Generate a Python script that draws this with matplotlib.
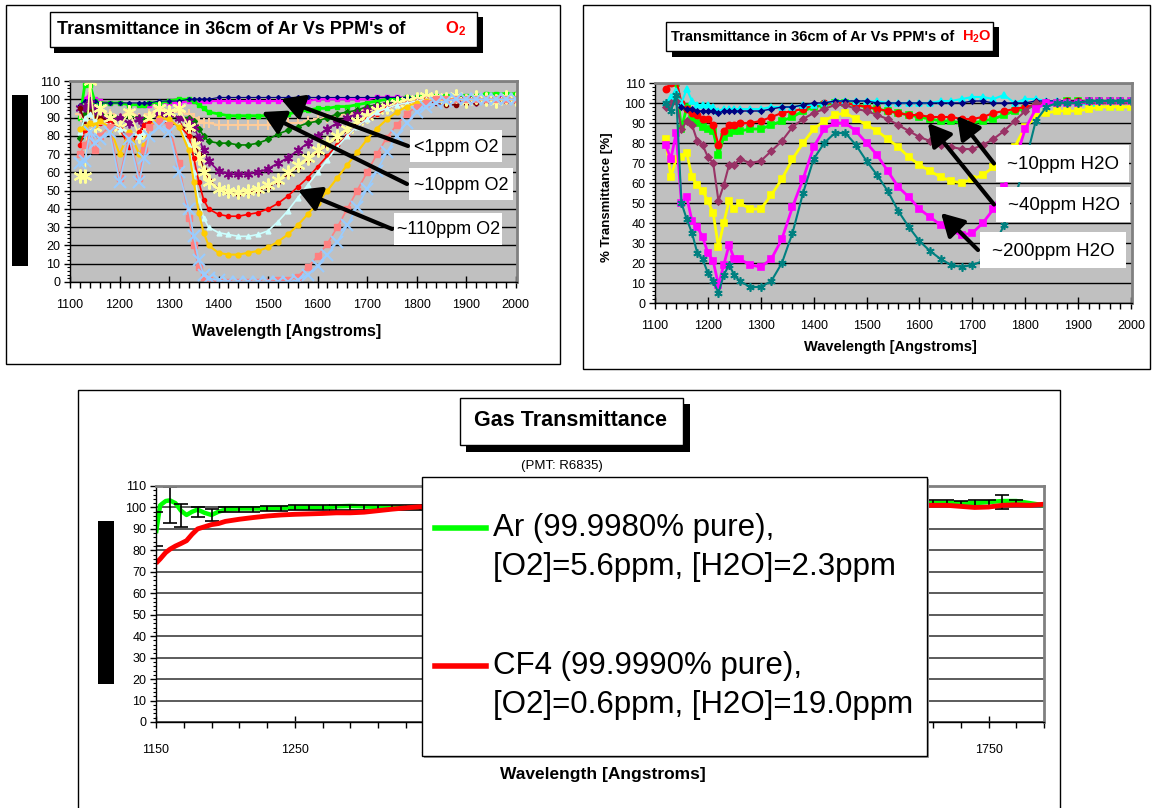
import numpy as np
import matplotlib.pyplot as plt
from matplotlib import font_manager as fm
from matplotlib.patches import Rectangle, FancyArrowPatch
from matplotlib.lines import Line2D

W, H = 1154, 808

_names = {f.name for f in fm.fontManager.ttflist}
SANS = 'Liberation Sans' if 'Liberation Sans' in _names else 'DejaVu Sans'
NARROW = 'Liberation Sans Narrow' if 'Liberation Sans Narrow' in _names else SANS

plt.rcParams['font.family'] = SANS
plt.rcParams['mathtext.fontset'] = 'custom'
plt.rcParams['mathtext.rm'] = SANS
plt.rcParams['mathtext.bf'] = SANS + ':bold'

# ── O2 panel : transmittance vs wavelength ───────────────────────────────────
xo = [1120, 1130, 1140, 1150, 1160, 1180, 1200, 1220, 1240, 1250, 1260, 1280, 1300, 1320, 1340, 1350, 1360, 1370, 1380,
      1400, 1420, 1440, 1460, 1480, 1500, 1520, 1540, 1560, 1580, 1600, 1620, 1640, 1660, 1680, 1700, 1720, 1740, 1760, 1780,
      1800, 1820, 1840, 1860, 1880, 1900, 1920, 1940, 1960, 1980, 2000]

o2_magenta = [96, 100, 103, 100, 99, 98, 98, 97, 97, 97, 97, 98, 98, 98, 99, 99, 99, 99, 99,
              99, 99, 99, 99, 99, 99, 99, 99, 99, 99, 100, 100, 100, 100, 100, 100, 101, 101, 101, 101,
              101, 101, 101, 101, 101, 101, 101, 101, 101, 101, 101]
o2_green = [90, 108, 108, 99, 98, 98, 98, 97, 97, 97, 98, 98, 99, 100, 100, 99, 97, 95, 93,
            92, 91, 91, 91, 91, 91, 92, 92, 93, 94, 95, 95, 96, 96, 97, 98, 99, 100, 100, 101,
            101, 102, 102, 102, 102, 102, 102, 103, 103, 103, 103]
o2_navy = [97, 99, 100, 99, 98, 98, 98, 98, 98, 98, 98, 99, 99, 99, 100, 100, 100, 100, 100,
           101, 101, 101, 101, 101, 101, 101, 101, 101, 101, 101, 101, 101, 101, 101, 101, 101, 101, 101, 101,
           101, 101, 101, 101, 101, 101, 101, 101, 101, 101, 101]
o2_peach = [92, 88, 95, 90, 93, 92, 90, 94, 90, 86, 92, 95, 94, 93, 92, 90, 88, 87, 87,
            86, 86, 86, 86, 86, 86, 86, 87, 87, 88, 89, 90, 91, 92, 93, 94, 95, 96, 97, 98,
            99, 100, 100, 100, 100, 100, 100, 100, 100, 100, 100]
o2_dkgreen = [79, 92, 95, 92, 92, 91, 90, 91, 90, 89, 90, 92, 91, 90, 90, 88, 84, 80, 77,
              76, 76, 75, 75, 76, 78, 81, 83, 85, 87, 88, 90, 92, 93, 94, 96, 97, 98, 98, 99,
              100, 100, 100, 100, 100, 100, 100, 100, 100, 100, 100]
o2_purple = [95, 96, 98, 94, 92, 88, 90, 87, 89, 85, 90, 92, 92, 90, 88, 85, 79, 72, 66,
             61, 59, 59, 59, 60, 62, 65, 68, 72, 76, 80, 84, 87, 90, 92, 94, 96, 97, 98, 99,
             99, 100, 100, 99, 100, 100, 99, 100, 100, 100, 100]
o2_dkred = [95, 88, 93, 90, 90, 88, 85, 77, 80, 84, 88, 87, 87, 86, 83, 78, 70, 62, 56,
            51, 49, 48, 49, 50, 52, 55, 59, 63, 67, 71, 75, 79, 83, 87, 90, 93, 95, 97, 98,
            98, 99, 98, 97, 97, 98, 98, 99, 99, 99, 99]
o2_ltyellow = [58, 58, 110, 85, 95, 90, 85, 93, 80, 82, 90, 95, 93, 95, 85, 75, 68, 60, 55,
               51, 50, 49, 50, 51, 53, 56, 60, 64, 68, 72, 76, 80, 84, 88, 91, 94, 96, 98, 99,
               100, 102, 101, 100, 102, 99, 101, 100, 99, 101, 100]
o2_red = [75, 83, 87, 86, 87, 87, 84, 74, 82, 86, 87, 88, 88, 86, 80, 68, 55, 45, 40,
          37, 36, 36, 37, 38, 40, 43, 47, 52, 57, 63, 69, 75, 80, 85, 89, 92, 95, 97, 98,
          99, 100, 100, 100, 100, 100, 100, 100, 100, 100, 100]
o2_ltcyan = [82, 90, 92, 88, 88, 86, 84, 82, 80, 82, 85, 88, 88, 86, 75, 60, 45, 35, 30,
             27, 26, 25, 25, 26, 28, 33, 39, 46, 53, 60, 67, 74, 80, 85, 89, 93, 95, 97, 98,
             99, 100, 100, 100, 100, 100, 100, 100, 100, 100, 100]
o2_gold = [84, 85, 87, 86, 88, 85, 70, 82, 70, 75, 85, 90, 89, 85, 72, 55, 38, 27, 20,
           16, 15, 15, 16, 17, 19, 22, 26, 31, 37, 43, 50, 57, 64, 71, 78, 84, 89, 93, 96,
           98, 99, 100, 100, 100, 100, 100, 100, 100, 100, 100]
o2_salmon = [70, 75, 80, 72, 80, 85, 57, 80, 57, 72, 85, 88, 86, 65, 35, 20, 8, 3, 1,
             0, 0, 0, 0, 0, 0, 1, 1, 3, 8, 14, 21, 30, 40, 50, 60, 70, 79, 86, 92,
             96, 98, 100, 100, 100, 100, 100, 100, 100, 100, 100]
o2_ltblue = [65, 66, 82, 76, 78, 82, 55, 78, 55, 68, 80, 85, 82, 60, 40, 25, 12, 4, 2,
             1, 0, 0, 0, 0, 0, 0, 0, 1, 4, 9, 15, 22, 31, 41, 51, 61, 71, 80, 87,
             93, 96, 98, 99, 100, 100, 100, 100, 100, 100, 100]

# ── H2O panel ────────────────────────────────────────────────────────────────
xh = [1120, 1130, 1140, 1150, 1160, 1170, 1180, 1190, 1200, 1210, 1220, 1230, 1240, 1250, 1260,
      1280, 1300, 1320, 1340, 1360, 1380, 1400, 1420, 1440, 1460, 1480, 1500, 1520, 1540, 1560, 1580, 1600, 1620,
      1640, 1660, 1680, 1700, 1720, 1740, 1760, 1780, 1800, 1820, 1840, 1860, 1880, 1900, 1920, 1940, 1960, 1980, 2000]

h2o_green = [112, 112, 110, 87, 98, 92, 90, 88, 87, 86, 74, 83, 85, 86, 86,
             87, 87, 89, 91, 93, 96, 98, 99, 100, 100, 99, 98, 97, 96, 95, 94, 93, 92,
             91, 91, 90, 90, 91, 92, 94, 96, 97, 99, 100, 100, 101, 101, 101, 101, 101, 101, 101]
h2o_red = [107, 110, 112, 100, 97, 95, 94, 92, 92, 89, 79, 86, 89, 89, 90,
           90, 91, 93, 95, 96, 97, 99, 100, 100, 100, 99, 98, 97, 96, 95, 94, 94, 93,
           93, 93, 92, 92, 93, 95, 96, 97, 98, 99, 100, 100, 101, 101, 101, 101, 101, 101, 101]
h2o_cyan = [100, 103, 106, 100, 107, 101, 99, 99, 99, 98, 96, 97, 97, 97, 97,
            97, 97, 98, 98, 98, 99, 99, 100, 101, 101, 101, 101, 101, 100, 100, 100, 100, 100,
            101, 101, 102, 103, 103, 102, 104, 100, 102, 102, 101, 101, 100, 100, 99, 98, 98, 98, 98]
h2o_navy = [99, 100, 101, 98, 97, 97, 96, 96, 96, 96, 95, 96, 96, 96, 96,
            96, 96, 97, 98, 98, 99, 100, 100, 101, 101, 101, 101, 100, 100, 100, 100, 100, 100,
            100, 100, 100, 101, 101, 100, 100, 100, 100, 101, 101, 101, 101, 101, 101, 101, 101, 101, 101]
h2o_mauve = [98, 100, 101, 87, 91, 89, 81, 79, 73, 70, 51, 59, 69, 69, 72,
             70, 71, 76, 81, 88, 92, 95, 97, 99, 99, 97, 96, 94, 92, 89, 86, 83, 81,
             79, 78, 77, 77, 79, 82, 86, 91, 96, 100, 100, 100, 100, 100, 100, 100, 100, 100, 100]
h2o_yellow = [82, 63, 72, 73, 75, 63, 59, 56, 51, 45, 28, 40, 51, 47, 50,
              47, 47, 54, 62, 72, 80, 87, 91, 94, 95, 92, 89, 86, 82, 78, 73, 69, 66,
              63, 61, 60, 62, 64, 68, 72, 78, 88, 93, 95, 96, 96, 96, 97, 98, 98, 98, 98]
h2o_magenta = [79, 72, 85, 50, 53, 41, 38, 33, 25, 21, 9, 19, 29, 22, 22,
               19, 18, 22, 32, 48, 62, 78, 87, 90, 90, 86, 80, 74, 66, 58, 53, 47, 43,
               39, 36, 34, 35, 40, 47, 58, 70, 87, 97, 100, 100, 100, 100, 101, 101, 101, 101, 101]
h2o_teal = [100, 96, 104, 50, 42, 35, 25, 22, 15, 11, 5, 14, 19, 14, 11,
            8, 8, 11, 20, 35, 55, 72, 80, 85, 85, 79, 71, 64, 56, 46, 38, 31, 26,
            22, 19, 18, 19, 21, 28, 39, 52, 70, 91, 98, 100, 100, 100, 101, 101, 101, 101, 101]

# ── Gas transmittance panel ──────────────────────────────────────────────────
xg = [1150, 1153, 1157, 1160, 1164, 1168, 1172, 1176, 1180, 1185, 1190, 1195, 1200,
      1210, 1220, 1230, 1240, 1250, 1260, 1270, 1280, 1290, 1300, 1310, 1320, 1330, 1340,
      1360, 1380, 1400, 1420, 1440, 1460, 1480, 1500, 1520, 1540, 1560, 1580, 1600, 1620, 1640, 1660, 1680, 1700,
      1710, 1720, 1730, 1740, 1750, 1760, 1770, 1780, 1790]
ar_vals = [88, 101, 103, 103.3, 102, 98.5, 96.5, 98, 99, 97.5, 96.5, 98, 99,
           99.5, 99.5, 99.5, 99.8, 100, 100, 100, 100.5, 100.7, 100.5, 100.2, 100, 100, 100,
           100, 100, 100, 100, 100.5, 100.5, 101, 101, 101, 101, 101, 101, 101, 101, 101.5, 101.5, 102, 102,
           102, 102, 102, 102, 102.5, 103, 103, 102, 101]
cf4_vals = [74, 76, 79, 80.5, 82, 83.2, 84.5, 87.5, 90, 91, 92, 92.5, 93.5,
            94.5, 95.3, 96, 96.5, 96.8, 97, 97.2, 97.5, 97.5, 97.8, 98.5, 99.2, 99.8, 100.3,
            99.5, 99.5, 100, 100, 100.5, 100.5, 101, 101, 101, 101, 101, 101, 101, 101, 101, 101, 101, 101,
            101, 101, 100.5, 100, 100.2, 101, 101.2, 101, 101.5]
err_x = [1150, 1160, 1168, 1180, 1190, 1200, 1210, 1220, 1230, 1240, 1250, 1260, 1270, 1280,
         1290, 1300, 1310, 1320, 1330, 1340, 1700, 1710, 1720, 1730, 1740, 1750, 1760, 1770]
err_mid = [90, 101.2, 96.2, 97.9, 96.5, 99, 99, 99, 99.5, 99.5, 100, 100, 100, 100,
           100, 100, 100, 100, 100, 100, 102, 102, 102, 101.5, 102, 102, 102.6, 102]
err_half = [8, 8.3, 5.2, 2.3, 2.9, 1, 1, 1, 1, 1, 1, 1, 1, 1,
            1, 1, 1, 1, 1, 1, 1.5, 1.5, 1.5, 1.5, 1.5, 1.5, 3.3, 1.5]
gas_labels = ['Ar (99.9980% pure),', '[O2]=5.6ppm, [H2O]=2.3ppm',
              'CF4 (99.9990% pure),', '[O2]=0.6ppm, [H2O]=19.0ppm']

fig = plt.figure(figsize=(W / 100, H / 100), dpi=100)


def frac(x0, y0, x1, y1):
    return [x0 / W, 1 - y1 / H, (x1 - x0) / W, (y1 - y0) / H]


def box(x0, y0, x1, y1, fc='white', ec='none', lw=1.0, z=1):
    fig.add_artist(Rectangle((x0 / W, 1 - y1 / H), (x1 - x0) / W, (y1 - y0) / H,
                             transform=fig.transFigure, fc=fc, ec=ec, lw=lw, zorder=z))


def ptext(x, y, s, **kw):
    kw.setdefault('zorder', 5)
    fig.text(x / W, 1 - y / H, s, **kw)


def arrow(x0, y0, x1, y1):
    fig.add_artist(FancyArrowPatch((x0 / W, 1 - y0 / H), (x1 / W, 1 - y1 / H),
                                   transform=fig.transFigure,
                                   arrowstyle='-|>,head_length=0.8,head_width=0.45',
                                   mutation_scale=17, lw=3, color='black',
                                   shrinkA=0, shrinkB=0, zorder=2))


def excel_axes(ax, face, tick_font, xmaj, xmin):
    ax.set_facecolor(face)
    for s in ('top', 'right'):
        ax.spines[s].set_color('#808080')
        ax.spines[s].set_linewidth(2)
    for s in ('left', 'bottom'):
        ax.spines[s].set_color('black')
        ax.spines[s].set_linewidth(1)
    ax.set_ylim(0, 110)
    ax.set_yticks(np.arange(0, 111, 10))
    ax.set_yticks(np.arange(0, 111, 2), minor=True)
    ax.set_xticks(xmaj)
    ax.set_xticks(xmin, minor=True)
    ax.tick_params(axis='x', which='major', direction='inout', length=8, width=1, pad=8)
    ax.tick_params(axis='x', which='minor', direction='out', length=4, width=1)
    ax.tick_params(axis='y', which='major', direction='out', length=4, width=1, pad=3)
    ax.tick_params(axis='y', which='minor', direction='out', length=2, width=0.8)
    for lab in ax.get_xticklabels() + ax.get_yticklabels():
        lab.set_fontfamily(tick_font[0])
        lab.set_fontsize(tick_font[1])
    ax.set_axisbelow(True)


STAR = (6, 2, 0)

# ── panel frames ─────────────────────────────────────────────────────────────
box(6, 5, 560, 364, fc='none', ec='black', lw=1)
box(583, 5, 1150, 369, fc='none', ec='black', lw=1)
box(78, 390, 1060, 815, fc='none', ec='black', lw=1)

# ══ Panel 1 : O2 ═════════════════════════════════════════════════════════════
ax1 = fig.add_axes(frac(70, 81, 517, 282))
ax1.set_xlim(1100, 2003)
excel_axes(ax1, '#C0C0C0', (SANS, 9), np.arange(1100, 2001, 100), np.arange(1100, 2001, 20))
ax1.yaxis.grid(True, color='black', lw=1)

o2_series = [
    (o2_magenta, '#FF00FF', 's', 3.5, 1.0, 1.5),
    (o2_green, '#00FF00', 's', 3.5, 1.0, 2.0),
    (o2_navy, '#000080', 'D', 2.0, 1.0, 0.8),
    (o2_peach, '#FFCC99', '+', 7.0, 1.5, 1.2),
    (o2_dkgreen, '#008000', 'D', 3.0, 1.0, 1.2),
    (o2_purple, '#800080', STAR, 7.0, 1.3, 1.2),
    (o2_dkred, '#800000', 'o', 3.0, 1.0, 1.2),
    (o2_ltyellow, '#FFFF99', STAR, 10.0, 1.5, 1.2),
    (o2_red, '#FF0000', 'o', 3.0, 1.0, 1.2),
    (o2_ltcyan, '#CCFFFF', '^', 3.5, 1.0, 1.2),
    (o2_gold, '#FFCC00', 'o', 3.5, 1.0, 1.5),
    (o2_salmon, '#FF8080', 's', 4.0, 1.0, 1.2),
    (o2_ltblue, '#99CCFF', 'x', 8.0, 1.5, 1.2),
]
for vals, col, mk, ms, mew, lw in o2_series:
    ax1.plot(xo, vals, color=col, marker=mk, ms=ms, mew=mew, mec=col, mfc=col, lw=lw)

box(50, 12, 477, 47, fc='white', ec='black', lw=1, z=1.5)
box(54, 17, 483, 53, fc='black', z=1.2)
ptext(57, 29, "Transmittance in 36cm of Ar Vs PPM's of", fontsize=13, fontweight='bold', va='center')
ptext(445, 29, r'$\mathbf{O_2}$', fontsize=12, color='red', va='center')
ptext(287, 332, 'Wavelength [Angstroms]', fontsize=11.5, fontweight='bold', ha='center', va='center')
box(12, 95, 28, 266, fc='black', z=1)

o2_notes = [('<1ppm O2', 407, 130, 502, 162, 281, 99),
            ('~10ppm O2', 406, 168, 513, 200, 262, 112),
            ('~110ppm O2', 391, 213, 502, 245, 298, 190)]
for lab, bx0, by0, bx1, by1, hx, hy in o2_notes:
    arrow(bx0 + 1, (by0 + by1) / 2, hx, hy)
    box(bx0 + 3, by0, bx1, by1, fc='white', z=3)
    ptext((bx0 + bx1) / 2 + 2, (by0 + by1) / 2 + 1, lab, fontsize=13, ha='center', va='center')

# ══ Panel 2 : H2O ════════════════════════════════════════════════════════════
ax2 = fig.add_axes(frac(655, 83, 1132, 303))
ax2.set_xlim(1100, 2002)
excel_axes(ax2, '#C0C0C0', (SANS, 9), np.arange(1100, 2001, 100), np.arange(1100, 2001, 20))
ax2.yaxis.grid(True, color='black', lw=1)

h2o_series = [
    (h2o_green, '#00FF00', 's', 4.5, 2.0),
    (h2o_red, '#FF0000', 'o', 4.5, 1.5),
    (h2o_cyan, '#00FFFF', '^', 4.5, 1.5),
    (h2o_navy, '#000080', 'D', 2.5, 1.0),
    (h2o_mauve, '#993366', 'D', 3.5, 1.5),
    (h2o_yellow, '#FFFF00', 's', 4.5, 2.0),
    (h2o_magenta, '#FF00FF', 's', 4.5, 2.0),
    (h2o_teal, '#008080', STAR, 6.0, 1.5),
]
for vals, col, mk, ms, lw in h2o_series:
    ax2.plot(xh, vals, color=col, marker=mk, ms=ms, mec=col, mfc=col, mew=1.2, lw=lw)

box(666, 22, 993, 51, fc='white', ec='black', lw=1, z=1.5)
box(672, 27, 999, 57, fc='black', z=1.2)
ptext(671, 37, "Transmittance in 36cm of Ar Vs PPM's of", fontsize=10.5, fontweight='bold', va='center')
ptext(962, 37, r'$\mathbf{H_2O}$', fontsize=10.5, color='red', va='center')
ptext(890, 347, 'Wavelength [Angstroms]', fontsize=10.5, fontweight='bold', ha='center', va='center')
ptext(607, 197, '% Transmittance [%]', fontsize=9.5, fontweight='bold', ha='center', va='center',
      rotation=90)

h2o_notes = [('~10ppm H2O', 993, 145, 1129, 182, 957, 116),
             ('~40ppm H2O', 993, 187, 1130, 222, 928, 123),
             ('~200ppm H2O', 977, 232, 1126, 268, 941, 213)]
for lab, bx0, by0, bx1, by1, hx, hy in h2o_notes:
    arrow(bx0 + 1, (by0 + by1) / 2, hx, hy)
    box(bx0 + 3, by0, bx1, by1, fc='white', z=3)
    ptext((bx0 + bx1) / 2 + 2, (by0 + by1) / 2 + 1, lab, fontsize=13.5, ha='center', va='center')

# ══ Panel 3 : Gas transmittance ══════════════════════════════════════════════
ax3 = fig.add_axes(frac(156, 486, 1044, 722))
ax3.set_xlim(1150, 1790)
excel_axes(ax3, 'white', (NARROW, 9), np.arange(1150, 1751, 100), np.arange(1150, 1791, 20))
ax3.tick_params(axis='x', which='major', pad=12)
ax3.yaxis.grid(True, color='#404040', lw=1.2)

ax3.plot(xg, ar_vals, color='#00FF00', lw=3.2, solid_capstyle='butt')
ax3.errorbar(err_x, err_mid, yerr=err_half, fmt='none', ecolor='black', elinewidth=1.2,
             capsize=5, capthick=1.2)
ax3.plot(xg, cf4_vals, color='#FF0000', lw=3.5, solid_capstyle='butt')

box(460, 398, 683, 445, fc='white', ec='black', lw=1, z=1.5)
box(466, 404, 690, 452, fc='black', z=1.2)
ptext(571, 421, 'Gas Transmittance', fontsize=15.5, fontweight='bold', family=NARROW,
      ha='center', va='center')
ptext(562, 466, '(PMT: R6835)', fontsize=9.5, family=NARROW, ha='center', va='center')
ptext(603, 775, 'Wavelength [Angstroms]', fontsize=12.5, fontweight='bold', family=NARROW,
      ha='center', va='center')
box(98, 521, 114, 684, fc='black', z=1)

# legend box
box(424, 479, 929, 758, fc='#A0A0A0', z=2.9)
box(422, 477, 927, 756, fc='white', ec='black', lw=1, z=3)
for (c, y1, y2), (t1, t2) in zip([('#00FF00', 528, 567), ('#FF0000', 666, 705)],
                                 [gas_labels[0:2], gas_labels[2:4]]):
    fig.add_artist(Line2D([435 / W, 486 / W], [1 - y1 / H, 1 - y1 / H], color=c, lw=4,
                          transform=fig.transFigure, zorder=4))
    ptext(493, y1, t1, fontsize=22.5, family=NARROW, va='center')
    ptext(493, y2, t2, fontsize=22.5, family=NARROW, va='center')

fig.savefig('out.png', dpi=100)
